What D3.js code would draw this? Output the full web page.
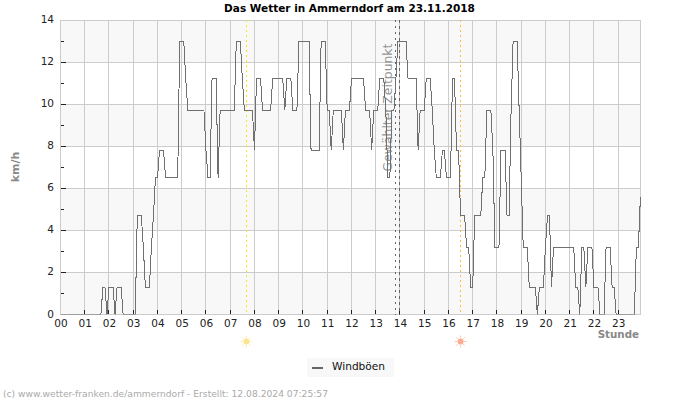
<!DOCTYPE html>
<html><head><meta charset="utf-8">
<script src="https://cdn.jsdelivr.net/npm/d3@7"></script>
<style>
html,body{margin:0;padding:0;background:#fff}
svg{display:block}
text{font-family:"DejaVu Sans",sans-serif}
</style></head><body><div id="c"></div>
<script>
const chartTitle = "Das Wetter in Ammerndorf am 23.11.2018";
const footer = "(c) www.wetter-franken.de/ammerndorf - Erstellt: 12.08.2024 07:25:57";
const hourLabels = ["00","01","02","03","04","05","06","07","08","09","10","11","12","13","14","15","16","17","18","19","20","21","22","23"];
const yMajor = [0,2,4,6,8,10,12,14];
const yMinor = [1,3,5,7,9,11,13];
const bands = [[12,14],[8,10],[4,6],[0,2]];
const seriesName = "Windböen";
const sunrise = 7.67, sunset = 16.5;
const markA = 13.8, markB = 14;
// wind gusts, one value every five minutes, km/h
const gusts = [
0,0,0,0,0,0,0,0,0,0,0,0,
0,0,0,0,0,0,0,0,0,1.3,1.3,0,
1.3,1.3,1.3,0,1.3,1.3,1.3,0,0,0,0,0,
0,0,4.7,4.7,4.7,3.2,1.3,1.3,1.3,3.2,4.7,6.5,
6.5,7.8,7.8,7.8,6.5,6.5,6.5,6.5,6.5,6.5,6.5,13,
13,13,11.2,9.7,9.7,9.7,9.7,9.7,9.7,9.7,9.7,9.7,
7.8,6.5,6.5,11.2,11.2,11.2,6.5,9.7,9.7,9.7,9.7,9.7,
9.7,9.7,9.7,13,13,13,11.2,9.7,9.7,9.7,9.7,9.7,
7.8,11.2,11.2,11.2,9.7,9.7,9.7,9.7,9.7,11.2,11.2,11.2,
11.2,11.2,11.2,9.7,11.2,11.2,11.2,9.7,9.7,9.7,13,13,
13,13,13,13,7.8,7.8,7.8,7.8,7.8,13,13,13,
9.7,9.7,7.8,9.7,9.7,9.7,9.7,9.7,7.8,9.7,9.7,9.7,
11.2,11.2,11.2,11.2,11.2,11.2,11.2,9.7,9.7,9.7,7.8,9.7,
9.7,9.7,11.2,11.2,11.2,9.7,6.5,6.5,9.7,9.7,11.2,13,
13,13,13,13,11.2,11.2,11.2,11.2,11.2,7.8,9.7,9.7,
9.7,11.2,11.2,11.2,9.7,7.8,6.5,6.5,6.5,7.8,7.8,6.5,
6.5,6.5,11.2,11.2,7.8,7.8,4.7,4.7,4.7,3.2,3.2,1.3,
1.3,4.7,4.7,4.7,4.7,6.5,6.5,9.7,9.7,9.7,7.8,3.2,
3.2,3.2,7.8,7.8,7.8,4.7,4.7,9.7,13,13,13,9.7,
6.5,3.2,3.2,3.2,1.3,1.3,1.3,1.3,0,1.3,1.3,1.3,
3.2,4.7,4.7,1.3,3.2,3.2,3.2,3.2,3.2,3.2,3.2,3.2,
3.2,3.2,3.2,1.3,1.3,0,3.2,3.2,1.3,3.2,3.2,3.2,
1.3,1.3,1.3,0,0,0,3.2,3.2,3.2,1.3,1.3,0,
0,0,0,0,0,0,0,0,0,3.2,3.2,5.6
];

const plotLeft = 60.5, plotRight = 640, plotTop = 20, plotBottom = 314.5;
const x = d3.scaleLinear().domain([0, 23.9]).range([plotLeft, plotRight]);
const y = d3.scaleLinear().domain([0, 14]).range([plotBottom, plotTop]);
const snap = v => Math.round(v - .5) + .5;

const svg = d3.select("#c").append("svg").attr("width",700).attr("height",400);
svg.append("defs").append("clipPath").attr("id","plot").append("rect")
  .attr("x",plotLeft).attr("y",plotTop-1).attr("width",plotRight-plotLeft+1).attr("height",plotBottom-plotTop+1);

svg.append("g").selectAll("rect").data(bands).join("rect")
  .attr("x",plotLeft).attr("width",plotRight-plotLeft)
  .attr("y",d=>y(d[1])).attr("height",d=>y(d[0])-y(d[1])).attr("fill","#f8f8f8");

const grid = svg.append("g").attr("stroke","#cccccc").attr("stroke-width",1).attr("shape-rendering","crispEdges");
grid.selectAll("line.h").data(yMajor).join("line").attr("class","h")
  .attr("x1",plotLeft).attr("x2",plotRight).attr("y1",d=>snap(y(d))).attr("y2",d=>snap(y(d)));
grid.selectAll("line.v").data(hourLabels).join("line").attr("class","v")
  .attr("x1",(d,i)=>snap(x(i))).attr("x2",(d,i)=>snap(x(i))).attr("y1",plotTop).attr("y2",plotBottom);
grid.append("line").attr("x1",plotRight).attr("x2",plotRight).attr("y1",plotTop).attr("y2",plotBottom);

const ticks = svg.append("g").attr("stroke","#222").attr("shape-rendering","crispEdges");
ticks.selectAll("line.mj").data(yMajor.slice(1,-1)).join("line").attr("class","mj")
  .attr("x1",plotLeft).attr("x2",plotLeft+5).attr("y1",d=>snap(y(d))).attr("y2",d=>snap(y(d)));
ticks.selectAll("line.mn").data(yMinor).join("line").attr("class","mn")
  .attr("x1",plotLeft).attr("x2",plotLeft+3).attr("y1",d=>snap(y(d))).attr("y2",d=>snap(y(d)));
ticks.selectAll("line.xt").data(hourLabels.slice(1)).join("line").attr("class","xt")
  .attr("x1",(d,i)=>snap(x(i+1))).attr("x2",(d,i)=>snap(x(i+1))).attr("y1",plotBottom-5).attr("y2",plotBottom-1);

svg.append("g").selectAll("text").data(yMajor).join("text")
  .attr("x",54).attr("y",d=>y(d)+3).attr("text-anchor","end")
  .attr("font-size",10.5).attr("fill","#222").text(d=>d);
svg.append("g").selectAll("text").data(hourLabels).join("text")
  .attr("x",(d,i)=>x(i)+.5).attr("y",327).attr("text-anchor","middle")
  .attr("font-size",10.5).attr("fill","#222").text(d=>d);

svg.append("text").attr("x",349.5).attr("y",12).attr("text-anchor","middle")
  .attr("font-size",10.5).attr("font-weight","bold").attr("fill","#000").text(chartTitle);
svg.append("text").attr("transform","translate(19,167) rotate(-90)").attr("text-anchor","middle")
  .attr("font-size",11).attr("font-weight","bold").attr("fill","#888").text("km/h");
svg.append("text").attr("x",639).attr("y",338).attr("text-anchor","end")
  .attr("font-size",10.3).attr("font-weight","bold").attr("fill","#888").text("Stunde");

const marks = svg.append("g").attr("shape-rendering","crispEdges").attr("stroke-width",1);
[[sunrise,"#f6e620","2,3"],[sunset,"#ffb840","2,3"],[markA,"#666","2,4"],[markB,"#666","3,3"]].forEach(([h,c,dash])=>{
  marks.append("line").attr("x1",snap(x(h))).attr("x2",snap(x(h))).attr("y1",plotTop).attr("y2",plotBottom)
    .attr("stroke",c).attr("stroke-dasharray",dash);
});

svg.append("text").attr("transform",`translate(${x(markA)-3},107.5) rotate(-90)`).attr("text-anchor","middle")
  .attr("font-size",12.4).attr("fill","#888").attr("fill-opacity",.9).text("Gewählter Zeitpunkt");

const line = d3.line().x((d,i)=>x(i*5/60)).y(d=>y(d));
svg.append("path").datum(gusts).attr("d",line).attr("fill","none")
  .attr("stroke","#707070").attr("stroke-width",1).attr("shape-rendering","crispEdges")
  .attr("clip-path","url(#plot)");

function sun(cx,cy,fill,ray){
  const g = svg.append("g").attr("transform",`translate(${cx},${cy})`);
  d3.range(8).forEach(k=>{
    const a = k*Math.PI/4;
    g.append("line").attr("x1",3.2*Math.cos(a)).attr("y1",3.2*Math.sin(a))
      .attr("x2",6*Math.cos(a)).attr("y2",6*Math.sin(a)).attr("stroke",ray).attr("stroke-width",.9);
  });
  g.append("circle").attr("r",3).attr("fill",fill);
}
sun(x(sunrise),341.5,"#fde48f","#fdeba8");
sun(x(sunset),341.5,"#fdac94","#fdc4b0");

svg.append("rect").attr("x",307).attr("y",358).attr("width",87).attr("height",19).attr("fill","#f8f8f8");
svg.append("line").attr("x1",312).attr("x2",323).attr("y1",367.5).attr("y2",367.5)
  .attr("stroke","#666").attr("stroke-width",2).attr("shape-rendering","crispEdges");
svg.append("text").attr("x",332).attr("y",370).attr("font-size",10.6).attr("fill","#111").text(seriesName);

svg.append("text").attr("x",3).attr("y",397).attr("font-size",9.17).attr("fill","#aaa").text(footer);
</script></body></html>
